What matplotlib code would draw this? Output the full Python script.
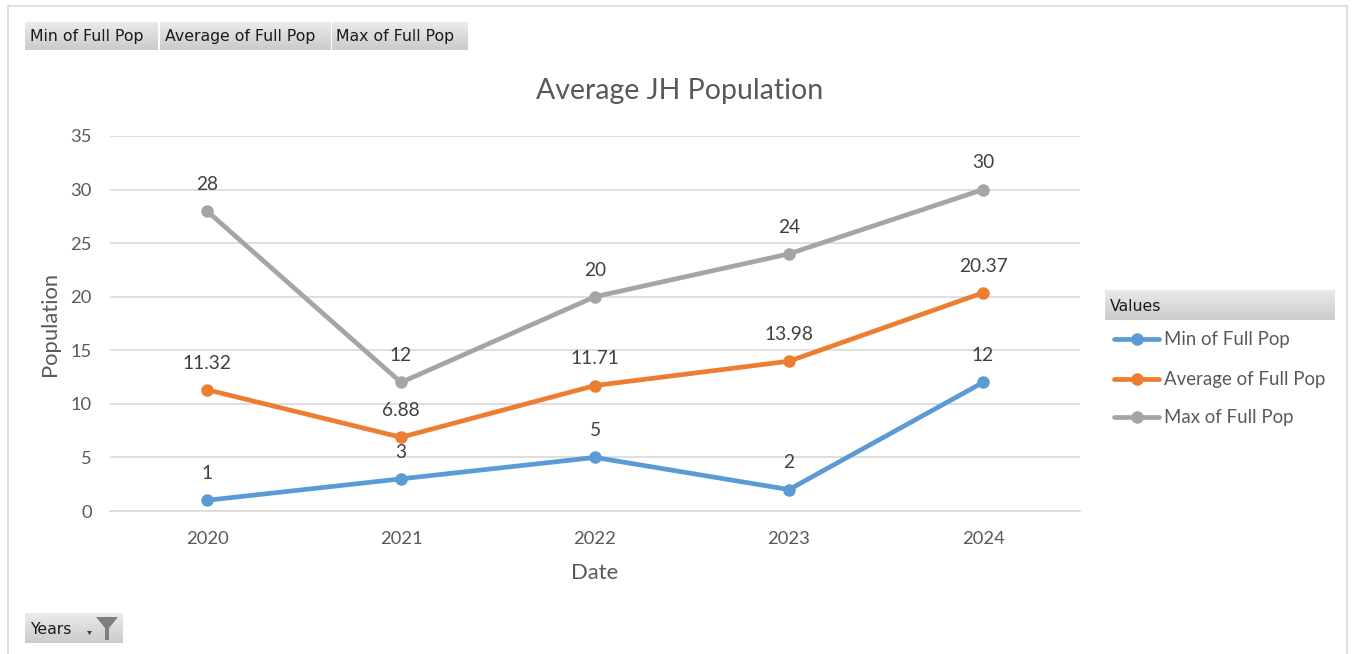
import matplotlib
matplotlib.use("Agg")
import matplotlib.pyplot as plt
import numpy as np
from matplotlib.lines import Line2D
from matplotlib.patches import Polygon
from matplotlib.colors import LinearSegmentedColormap

# ---- data ----
years = ["2020", "2021", "2022", "2023", "2024"]
min_pop = [1, 3, 5, 2, 12]
avg_pop = [11.32, 6.88, 11.71, 13.98, 20.37]
max_pop = [28, 12, 20, 24, 30]
series_names = ["Min of Full Pop", "Average of Full Pop", "Max of Full Pop"]
y_ticks = [0, 5, 10, 15, 20, 25, 30, 35]
title = "Average JH Population"

colors = ["#5B9BD5", "#ED7D31", "#A5A5A5"]
txt_col = "#595959"
grid_col = "#D9D9D9"
chart_font = ["Lato", "DejaVu Sans"]
ui_font = ["DejaVu Sans"]

W, H = 1357, 654
fig = plt.figure(figsize=(W / 100, H / 100), dpi=100)


def fx(px):
    return px / W


def fy(py):
    return 1 - py / H


grad_cmap = LinearSegmentedColormap.from_list("btn", ["#EBEBEB", "#CBCBCB"])


def button(x0, y0, x1, y1, text, tx=None, fs=11.3):
    bax = fig.add_axes([fx(x0), fy(y1), fx(x1) - fx(x0), fy(y0) - fy(y1)])
    bax.imshow(np.linspace(0, 1, 50).reshape(-1, 1), aspect="auto", cmap=grad_cmap,
               extent=[0, 1, 0, 1], origin="upper")
    bax.set_axis_off()
    if text:
        fig.text(fx(tx if tx is not None else x0 + 5), fy((y0 + y1) / 2 + 1), text,
                 family=ui_font, fontsize=fs, color="#1a1a1a", ha="left", va="center")
    return bax


# border of chart area
fig.add_artist(Line2D([fx(8), fx(8)], [fy(6), 0], color=grid_col, lw=1.2))
fig.add_artist(Line2D([fx(8), fx(1347)], [fy(6), fy(6)], color=grid_col, lw=1.2))
fig.add_artist(Line2D([fx(1347), fx(1347)], [fy(6), 0], color=grid_col, lw=1.2))

# main axes
ax = fig.add_axes([fx(110), fy(511), fx(1080) - fx(110), fy(136) - fy(511)])
x = np.arange(len(years)) + 0.5
for vals, c, name in zip([min_pop, avg_pop, max_pop], colors, series_names):
    ax.plot(x, vals, color=c, lw=3.4, marker="o", ms=8, solid_capstyle="round",
            solid_joinstyle="round", label=name, zorder=3, clip_on=False)
    for xi, v in zip(x, vals):
        ax.annotate(f"{v:g}", (xi, v), xytext=(0, 19.2), textcoords="offset points",
                    ha="center", va="center", fontsize=13.8, color="#404040",
                    family=chart_font)

ax.set_xlim(0, len(years))
ax.set_ylim(y_ticks[0], y_ticks[-1])
ax.set_yticks(y_ticks)
ax.set_xticks(x)
ax.set_xticklabels(years)
ax.grid(axis="y", color=grid_col, lw=1.2)
ax.set_axisbelow(True)
for s in ["left", "right", "top"]:
    ax.spines[s].set_visible(False)
ax.spines["bottom"].set_color(grid_col)
ax.spines["bottom"].set_linewidth(1.2)
ax.tick_params(length=0, labelcolor=txt_col, labelsize=13.2)
ax.tick_params(axis="y", pad=13)
ax.tick_params(axis="x", pad=14.5)
for lab in ax.get_xticklabels() + ax.get_yticklabels():
    lab.set_family(chart_font)

fig.text(fx(680), fy(91.5), title, ha="center", va="center", fontsize=20.5,
         color=txt_col, family=chart_font)
fig.text(fx(50), fy(324), "Population", ha="center", va="center", rotation=90,
         fontsize=15.8, color=txt_col, family=chart_font)
fig.text(fx(595), fy(573), "Date", ha="center", va="center", fontsize=15.8,
         color=txt_col, family=chart_font)

# top field buttons
button(25, 22, 158, 50, series_names[0], tx=30)
button(160, 22, 330, 50, series_names[1], tx=165)
button(332, 22, 468, 50, series_names[2], tx=336)

# legend
button(1105, 290, 1335, 320, "Values", tx=1110)
for i, (c, name) in enumerate(zip(colors, series_names)):
    yy = [339, 379, 417][i]
    fig.add_artist(Line2D([fx(1114), fx(1159)], [fy(yy), fy(yy)], color=c, lw=3.4,
                          solid_capstyle="round"))
    fig.add_artist(Line2D([fx(1137)], [fy(yy)], color=c, marker="o", ms=8, lw=0))
    fig.text(fx(1164), fy(yy), name, ha="left", va="center", fontsize=13.4,
             color=txt_col, family=chart_font)

# Years filter button
button(25, 613, 123, 643, "Years", tx=30)
fun = [(96, 617), (118, 617), (109, 628), (109, 640), (105, 640), (105, 628)]
fig.add_artist(Polygon([(fx(a), fy(b)) for a, b in fun], closed=True,
                       facecolor="#7F7F7F", edgecolor="none"))
arr = [(87, 631), (92, 631), (89.5, 635)]
fig.add_artist(Polygon([(fx(a), fy(b)) for a, b in arr], closed=True,
                       facecolor="#404040", edgecolor="none"))

fig.savefig("out.png", dpi=100, facecolor="white")
